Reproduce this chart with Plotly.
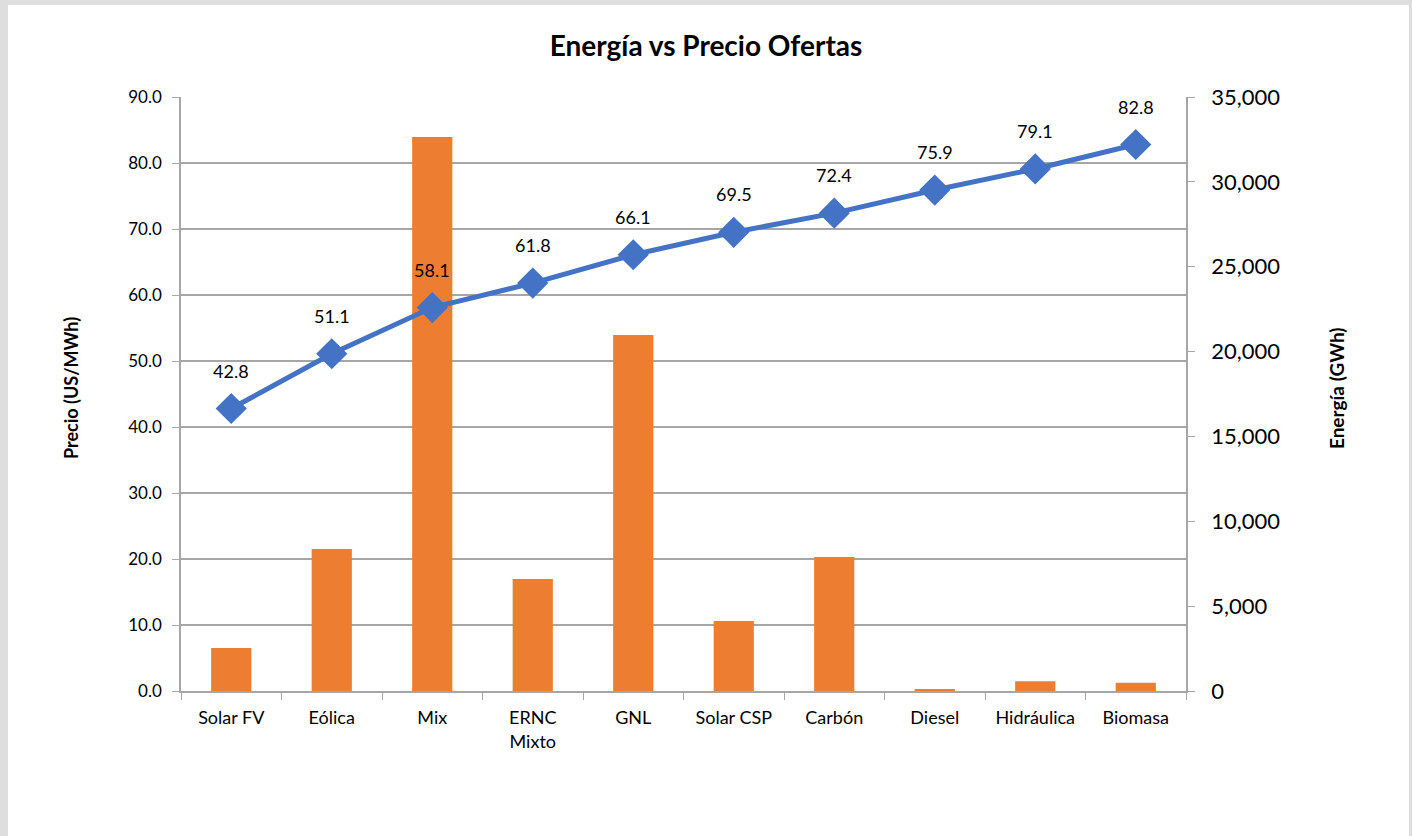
import plotly.graph_objects as go

# --- data ---
CATEGORIES = ["Solar FV", "Eólica", "Mix", "ERNC<br>Mixto", "GNL", "Solar CSP",
              "Carbón", "Diesel", "Hidráulica", "Biomasa"]
ENERGIA_GWH = [2540, 8370, 32640, 6600, 20980, 4130, 7900, 70, 570, 490]
PRECIO = [42.8, 51.1, 58.1, 61.8, 66.1, 69.5, 72.4, 75.9, 79.1, 82.8]

FONT = "Lato, 'Open Sans', sans-serif"
BAR_COLOR = "#ED7D31"
LINE_COLOR = "#4472C4"
GRID = "#A6A6A6"
FRAME = "#DEDEDE"

W, H = 1412, 836
L, R, T, B = 181, 226, 97, 145
PW, PH = W - L - R, H - T - B


def px_x(p):
    return (p - L) / PW


def px_y(p):
    return (H - B - p) / PH


fig = go.Figure()
# bars on the right-hand axis, line on the left-hand overlay so it sits on top
fig.add_trace(go.Bar(
    x=CATEGORIES, y=ENERGIA_GWH, yaxis="y", marker_color=BAR_COLOR,
    marker_line_width=0, name="Energía",
    hovertemplate="%{x}<br>Energía: %{y:,.0f} GWh<extra></extra>",
))
fig.add_trace(go.Scatter(
    x=CATEGORIES, y=PRECIO, yaxis="y2", mode="lines+markers", name="Precio",
    line=dict(color=LINE_COLOR, width=5),
    marker=dict(symbol="diamond", size=24, color=LINE_COLOR),
    hovertemplate="%{x}<br>Precio: %{y:.1f}<extra></extra>",
))

for cat, val in zip(CATEGORIES, PRECIO):
    fig.add_annotation(x=cat, y=val, xref="x", yref="y2", yshift=38,
                       text=f"{val:.1f}", showarrow=False,
                       font=dict(size=18, color="#000000", family=FONT))

# axis titles (centred explicitly: paper x outside [0,1] would auto-anchor)
fig.add_annotation(x=px_x(71), y=0.51, xref="paper", yref="paper",
                   xanchor="center", yanchor="middle",
                   text="<b>Precio (US/MWh)</b>", textangle=-90, showarrow=False,
                   font=dict(size=18, color="#000000", family=FONT))
fig.add_annotation(x=px_x(1336), y=0.51, xref="paper", yref="paper",
                   xanchor="center", yanchor="middle",
                   text="<b>Energía (GWh)</b>", textangle=-90, showarrow=False,
                   font=dict(size=19, color="#000000", family=FONT))

# white card on a light-grey frame
fig.add_shape(type="rect", xref="paper", yref="paper", layer="below",
              x0=px_x(8), x1=px_x(1409), y0=px_y(900), y1=px_y(5),
              fillcolor="#FFFFFF", line_width=0)

fig.update_layout(
    width=W, height=H,
    margin=dict(l=L, r=R, t=T, b=B),
    paper_bgcolor=FRAME, plot_bgcolor="rgba(0,0,0,0)",
    font=dict(family=FONT, color="#000000"),
    showlegend=False, bargap=0.6,
    title=dict(text="<b>Energía vs Precio Ofertas</b>", x=0.5, xanchor="center",
               y=1 - 46 / H, yanchor="middle",
               font=dict(size=28, family=FONT, color="#000000")),
    xaxis=dict(type="category", range=[-0.5, len(CATEGORIES) - 0.5],
               showline=True, linecolor=GRID, linewidth=1.5,
               ticks="outside", tickson="boundaries", ticklen=7, tickcolor=GRID,
               ticklabelstandoff=10, tickfont=dict(size=18), showgrid=False),
    yaxis=dict(side="right", range=[0, 35000], dtick=5000, tickformat=",",
               showgrid=False, showline=True, linecolor=GRID, linewidth=1.5,
               ticks="outside", ticklen=7, tickcolor=GRID, zeroline=False,
               ticklabelstandoff=12, tickfont=dict(size=22)),
    yaxis2=dict(side="left", overlaying="y", range=[0, 90], dtick=10,
                tickformat=".1f", showgrid=True, gridcolor=GRID, gridwidth=1.5,
                showline=True, linecolor=GRID, linewidth=1.5, ticks="outside",
                ticklen=7, tickcolor=GRID, zeroline=False,
                ticklabelstandoff=7, tickfont=dict(size=17)),
)

# the default page has an 8px body margin; the reference starts at the corner
fig.write_html("out.html", config={"displayModeBar": False},
               post_script="document.body.style.margin='0';")
